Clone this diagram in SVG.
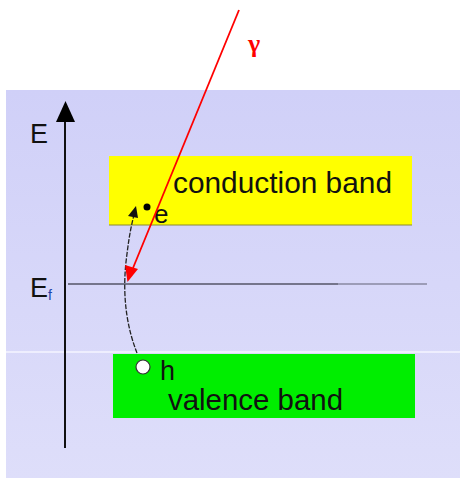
<svg xmlns="http://www.w3.org/2000/svg" width="460" height="478" viewBox="0 0 460 478">
  <defs>
    <linearGradient id="bg" x1="0" y1="0" x2="0" y2="1">
      <stop offset="0" stop-color="#d0d0f8"/>
      <stop offset="1" stop-color="#dedefa"/>
    </linearGradient>
    <marker id="axisHead" markerWidth="10" markerHeight="10" refX="5" refY="10" orient="auto-start-reverse" markerUnits="userSpaceOnUse" viewBox="0 0 10 10">
      <path d="M0,10 L5,0 L10,10 Z" fill="#000"/>
    </marker>
    <marker id="redHead" markerWidth="12" markerHeight="14" refX="6" refY="14" viewBox="0 0 12 14" orient="auto" markerUnits="userSpaceOnUse">
      <path d="M14,6 L0,0 L0,12 Z" fill="#ff0000"/>
    </marker>
    <marker id="smallHead" markerWidth="8" markerHeight="8" refX="7" refY="4" viewBox="0 0 8 8" orient="auto" markerUnits="userSpaceOnUse">
      <path d="M0,0 L8,4 L0,8 Z" fill="#111"/>
    </marker>
    <style>
      .lbl { font-family: "Liberation Sans", Arial, sans-serif; fill: #111; }
    </style>
  </defs>

  <rect x="0" y="0" width="460" height="478" fill="#ffffff"/>
  <rect x="6" y="90" width="454" height="388" fill="url(#bg)"/>
  <line x1="6" y1="352" x2="460" y2="352" stroke="#f4f4ff" stroke-width="1.5"/>

  <g id="conduction-band">
    <rect x="109" y="156" width="303" height="69" fill="#ffff00"/>
    <line x1="109" y1="225" x2="412" y2="225" stroke="#8a8a30" stroke-width="1"/>
    <text class="lbl" x="173" y="193" font-size="29" textLength="219" lengthAdjust="spacingAndGlyphs">conduction band</text>
  </g>

  <g id="valence-band">
    <rect x="113" y="354" width="302" height="64" fill="#00ee00"/>
    <text class="lbl" x="168" y="410" font-size="29" textLength="175" lengthAdjust="spacingAndGlyphs">valence band</text>
  </g>

  <g id="axis">
    <line x1="65" y1="448" x2="65" y2="120" stroke="#111" stroke-width="2"/>
    <path d="M56,122 L65.5,101 L75,122 Z" fill="#000"/>
    <text class="lbl" x="30" y="143" font-size="27">E</text>
  </g>

  <g id="fermi-level">
    <line x1="68" y1="284" x2="338" y2="284" stroke="#555566" stroke-width="1.5"/>
    <line x1="338" y1="284" x2="427" y2="284" stroke="#8888a0" stroke-width="1.5"/>
    <text class="lbl" x="30" y="297" font-size="27">E</text>
    <text class="lbl" x="48" y="300" font-size="14" style="fill:#2244aa">f</text>
  </g>

  <g id="electron">
    <circle cx="147" cy="207" r="3.5" fill="#000"/>
    <text class="lbl" x="154" y="223" font-size="26">e</text>
  </g>

  <g id="hole">
    <circle cx="143" cy="367" r="7" fill="#ffffff" stroke="#333" stroke-width="1.2"/>
    <text class="lbl" x="160" y="380" font-size="27">h</text>
  </g>

  <g id="photon">
    <text x="248" y="52" font-family="'Liberation Serif', 'DejaVu Serif', serif" font-size="26" fill="#ff0000" font-weight="bold">γ</text>
  </g>

  <g id="connectors">
    <path d="M137,353 C128,330 122,300 126,262 C128,245 130,230 134,215" fill="none" stroke="#222" stroke-width="1.3" stroke-dasharray="5,1.5"/>
    <path d="M128,216 L136,206 L138,218 Z" fill="#111"/>
    <line x1="239" y1="10" x2="133" y2="268" stroke="#ff0000" stroke-width="1.8"/>
    <path d="M127.5,282 L125,265 L138,269 Z" fill="#ff0000"/>
  </g>
</svg>
